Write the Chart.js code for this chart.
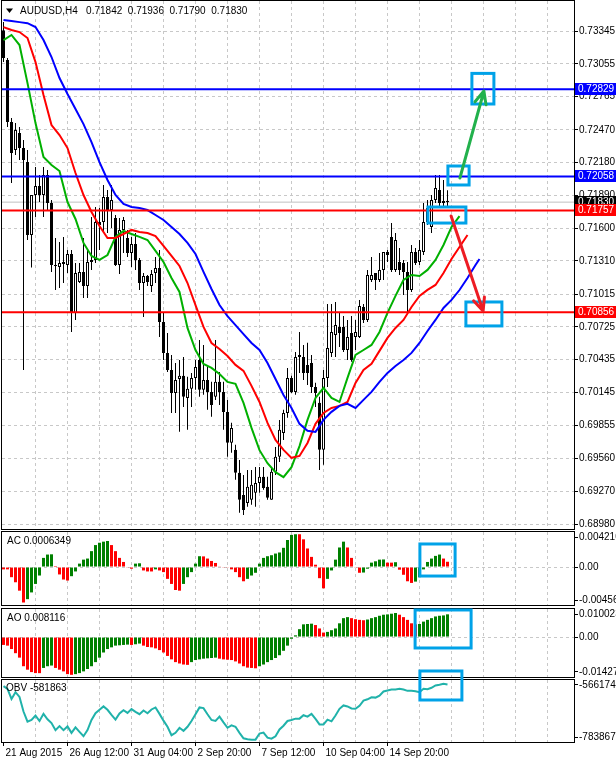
<!DOCTYPE html>
<html>
<head>
<meta charset="utf-8">
<title>AUDUSD,H4</title>
<script src="https://cdn.jsdelivr.net/npm/chart.js"></script>
<style>
  html, body { margin: 0; padding: 0; background: #fff; }
  #terminal { position: relative; width: 616px; height: 762px; overflow: hidden; background: #fff; }
  #terminal canvas { position: absolute; left: 0; }
</style>
</head>
<body>
<div id="terminal">
  <canvas id="priceChart" width="616" height="531" style="top:0px"></canvas>
  <canvas id="acChart" width="616" height="77" style="top:531px"></canvas>
  <canvas id="aoChart" width="616" height="71" style="top:608px"></canvas>
  <canvas id="obvChart" width="616" height="102" style="top:660px"></canvas>
</div>
<script>
// ============================
// DATA (AUDUSD H4, 112 bars)
// ============================
const dateLabels = ["21 Aug 2015", "26 Aug 12:00", "31 Aug 04:00", "2 Sep 20:00", "7 Sep 12:00", "10 Sep 04:00", "14 Sep 20:00"];
const dateBars = [0, 16, 32, 48, 64, 80, 96];

const open = [
  0.73353, 0.73088, 0.72539, 0.72291, 0.72442, 0.72309, 0.72185, 0.71539, 0.71893, 0.71973,
  0.71893, 0.72070, 0.71822, 0.71274, 0.71256, 0.71283, 0.71274, 0.71371, 0.70849, 0.71123,
  0.71212, 0.71088, 0.71300, 0.71318, 0.71654, 0.71654, 0.71876, 0.71760, 0.71689, 0.71274,
  0.71584, 0.71513, 0.71380, 0.71460, 0.71318, 0.71114, 0.71176, 0.71088, 0.71203, 0.71247,
  0.70769, 0.70495, 0.70344, 0.70141, 0.70265, 0.70292, 0.70097, 0.70177, 0.70274, 0.70433,
  0.70168, 0.70256, 0.70150, 0.70106, 0.70239, 0.70150, 0.69973, 0.69699, 0.69637, 0.69433,
  0.69238, 0.69167, 0.69194, 0.69256, 0.69344, 0.69398, 0.69309, 0.69194, 0.69442, 0.69575,
  0.69787, 0.69964, 0.70274, 0.70150, 0.70459, 0.70459, 0.70389, 0.70406, 0.70194, 0.70053,
  0.69637, 0.70274, 0.70495, 0.70654, 0.70725, 0.70725, 0.70522, 0.70672, 0.70637, 0.70637,
  0.70902, 0.70787, 0.71141, 0.71203, 0.71141, 0.71229, 0.71389, 0.71522, 0.71229, 0.71300,
  0.71291, 0.71212, 0.71052, 0.71389, 0.71300, 0.71389, 0.71654, 0.71610, 0.71849, 0.71938,
  0.71840, 0.71842
];
const high = [
  0.73424, 0.73106, 0.72575, 0.72530, 0.72495, 0.72380, 0.72291, 0.71893, 0.72141, 0.72070,
  0.72141, 0.72114, 0.71849, 0.71513, 0.71478, 0.71522, 0.71406, 0.71406, 0.71291, 0.71291,
  0.71513, 0.71406, 0.71699, 0.71787, 0.71778, 0.71982, 0.71938, 0.71982, 0.71716, 0.71689,
  0.71699, 0.71584, 0.71522, 0.71557, 0.71336, 0.71203, 0.71185, 0.71229, 0.71345, 0.71406,
  0.70858, 0.70672, 0.70477, 0.70406, 0.70433, 0.70459, 0.70283, 0.70318, 0.70433, 0.70610,
  0.70566, 0.70371, 0.70239, 0.70610, 0.70327, 0.70239, 0.70079, 0.69876, 0.69681, 0.69548,
  0.69415, 0.69459, 0.69459, 0.69486, 0.69486, 0.69486, 0.69398, 0.69486, 0.69663, 0.69902,
  0.69991, 0.70362, 0.70292, 0.70504, 0.70681, 0.70566, 0.70584, 0.70477, 0.70230, 0.70106,
  0.70344, 0.70929, 0.70929, 0.70947, 0.70858, 0.70823, 0.70787, 0.70823, 0.70787, 0.70964,
  0.70929, 0.71229, 0.71345, 0.71203, 0.71380, 0.71389, 0.71406, 0.71645, 0.71557, 0.71424,
  0.71318, 0.71300, 0.71451, 0.71424, 0.71495, 0.71822, 0.71849, 0.71893, 0.72070, 0.72070,
  0.72026, 0.71936
];
const low = [
  0.73070, 0.72495, 0.71999, 0.72247, 0.72203, 0.70344, 0.71495, 0.71251, 0.71699, 0.71831,
  0.71699, 0.71760, 0.71212, 0.71052, 0.71070, 0.71114, 0.71203, 0.70681, 0.70787, 0.71114,
  0.70982, 0.70982, 0.71229, 0.71291, 0.71406, 0.71557, 0.71557, 0.71601, 0.71265, 0.71194,
  0.71380, 0.71345, 0.71256, 0.71229, 0.71052, 0.70814, 0.71088, 0.71035, 0.71114, 0.70637,
  0.70433, 0.70327, 0.69964, 0.69964, 0.69796, 0.70017, 0.69814, 0.70017, 0.70168, 0.70106,
  0.70124, 0.69991, 0.69929, 0.70079, 0.70035, 0.69814, 0.69575, 0.69611, 0.69371, 0.69079,
  0.69061, 0.69132, 0.69150, 0.69132, 0.69256, 0.69283, 0.69194, 0.69194, 0.69415, 0.69530,
  0.69725, 0.69920, 0.70141, 0.70124, 0.70318, 0.70256, 0.70212, 0.70141, 0.70017, 0.69459,
  0.69504, 0.70194, 0.70459, 0.70459, 0.70548, 0.70504, 0.70433, 0.70416, 0.70522, 0.70628,
  0.70761, 0.70769, 0.71123, 0.71052, 0.71123, 0.71141, 0.71300, 0.71212, 0.71212, 0.71185,
  0.71008, 0.70858, 0.71035, 0.71274, 0.71274, 0.71362, 0.71628, 0.71557, 0.71822, 0.71787,
  0.71787, 0.71790
];
const close = [
  0.73106, 0.72539, 0.72265, 0.72468, 0.72309, 0.72203, 0.71539, 0.71893, 0.71973, 0.71893,
  0.72070, 0.71822, 0.71274, 0.71265, 0.71292, 0.71300, 0.71371, 0.70849, 0.71203, 0.71212,
  0.71088, 0.71300, 0.71318, 0.71654, 0.71628, 0.71876, 0.71760, 0.71849, 0.71274, 0.71584,
  0.71672, 0.71380, 0.71460, 0.71318, 0.71114, 0.71176, 0.71123, 0.71194, 0.71247, 0.70769,
  0.70495, 0.70344, 0.70141, 0.70256, 0.70292, 0.70106, 0.70177, 0.70274, 0.70371, 0.70168,
  0.70256, 0.70150, 0.70035, 0.70239, 0.70150, 0.69973, 0.69699, 0.69831, 0.69433, 0.69194,
  0.69105, 0.69309, 0.69327, 0.69344, 0.69398, 0.69300, 0.69212, 0.69442, 0.69575, 0.69814,
  0.69964, 0.70274, 0.70150, 0.70459, 0.70477, 0.70318, 0.70318, 0.70194, 0.70141, 0.69637,
  0.70274, 0.70539, 0.70681, 0.70743, 0.70672, 0.70522, 0.70637, 0.70433, 0.70681, 0.70911,
  0.70787, 0.71185, 0.71185, 0.71141, 0.71229, 0.71389, 0.71362, 0.71229, 0.71495, 0.71229,
  0.71212, 0.71052, 0.71389, 0.71291, 0.71406, 0.71654, 0.71778, 0.71849, 0.71955, 0.71822,
  0.71822, 0.71830
];

// Alligator lines, read every 2nd bar (last value sits on the shifted end bar)
const jaw = [
  0.73442, 0.73433, 0.73424, 0.73415, 0.73380, 0.73265, 0.73115, 0.72929, 0.72787, 0.72654,
  0.72521, 0.72362, 0.72185, 0.72026, 0.71893, 0.71814, 0.71787, 0.71778, 0.71760, 0.71716,
  0.71672, 0.71610, 0.71548, 0.71469, 0.71371, 0.71212, 0.71061, 0.70919, 0.70820, 0.70741,
  0.70662, 0.70583, 0.70521, 0.70406, 0.70264, 0.70123, 0.70008, 0.69867, 0.69805, 0.69796,
  0.69902, 0.69973, 0.70026, 0.70044, 0.70008, 0.70079, 0.70150, 0.70238, 0.70318, 0.70380,
  0.70433, 0.70495, 0.70583, 0.70689, 0.70787, 0.70893, 0.70964, 0.71052, 0.71159, 0.71274,
  0.71327
];
const teeth = [
  0.73380, 0.73354, 0.73336, 0.73283, 0.73070, 0.72778, 0.72513, 0.72424, 0.72309, 0.72088,
  0.71893, 0.71743, 0.71619, 0.71513, 0.71513, 0.71548, 0.71584, 0.71566, 0.71557, 0.71530,
  0.71442, 0.71354, 0.71265, 0.71114, 0.70919, 0.70725, 0.70583, 0.70530, 0.70468, 0.70389,
  0.70336, 0.70203, 0.70061, 0.69875, 0.69725, 0.69636, 0.69566, 0.69583, 0.69698, 0.69867,
  0.69964, 0.70008, 0.70026, 0.70061, 0.70229, 0.70344, 0.70398, 0.70513, 0.70628, 0.70716,
  0.70787, 0.70902, 0.71000, 0.71053, 0.71097, 0.71203, 0.71327, 0.71433, 0.71539
];
const lips = [
  0.73265, 0.73310, 0.73221, 0.72884, 0.72530, 0.72230, 0.72159, 0.72106, 0.71831, 0.71681,
  0.71469, 0.71354, 0.71318, 0.71362, 0.71522, 0.71575, 0.71548, 0.71522, 0.71495, 0.71398,
  0.71300, 0.71159, 0.71035, 0.70716, 0.70521, 0.70398, 0.70362, 0.70309, 0.70238, 0.70221,
  0.70053, 0.69831, 0.69634, 0.69519, 0.69439, 0.69395, 0.69483, 0.69670, 0.69902, 0.70097,
  0.70185, 0.70097, 0.70061, 0.70274, 0.70477, 0.70521, 0.70566, 0.70681, 0.70849, 0.71000,
  0.71141, 0.71185, 0.71176, 0.71230, 0.71318, 0.71451, 0.71610, 0.71707
];
const jawEndBar = 119, teethEndBar = 116, lipsEndBar = 114;

const priceTicks = [0.73345, 0.73055, 0.72765, 0.72470, 0.72180, 0.71890, 0.71600, 0.71310,
                    0.71015, 0.70725, 0.70435, 0.70145, 0.69855, 0.69560, 0.69270, 0.68980];
const blueLevels = [0.72829, 0.72058];
const redLevels = [0.71757, 0.70856];

const acValues = [
  -0.00028, -0.00028, -0.00122, -0.00183, -0.00284, -0.00426, -0.00386, -0.00305, -0.00203, -0.00102,
  0.00110, 0.00150, 0.00153, 0.00012, -0.00089, -0.00150, -0.00162, -0.00110, -0.00053, 0.00041,
  0.00089, 0.00102, 0.00191, 0.00264, 0.00292, 0.00305, 0.00313, 0.00264, 0.00191, 0.00110,
  0.00061, -0.00008, -0.00020, 0.00041, 0.00045, -0.00041, -0.00053, -0.00053, -0.00028, -0.00041,
  -0.00061, -0.00142, -0.00203, -0.00276, -0.00284, -0.00203, -0.00122, -0.00061, 0.00041, 0.00130,
  0.00128, 0.00102, 0.00073, 0.00049, 0.00008, -0.00008, -0.00008, -0.00028, -0.00061, -0.00122,
  -0.00171, -0.00142, -0.00102, -0.00069, 0.00041, 0.00110, 0.00130, 0.00142, 0.00162, 0.00175,
  0.00231, 0.00325, 0.00386, 0.00394, 0.00394, 0.00333, 0.00223, 0.00122, 0.00028, -0.00134,
  -0.00256, -0.00142, -0.00041, 0.00089, 0.00235, 0.00305, 0.00235, 0.00110, -0.00008, -0.00069,
  -0.00066, -0.00020, 0.00053, 0.00069, 0.00089, 0.00091, 0.00053, 0.00053, 0.00058, -0.00032,
  -0.00093, -0.00171, -0.00191, -0.00175, -0.00122, -0.00028, 0.00061, 0.00102, 0.00134, 0.00150,
  0.00102, 0.0006349
];
const aoValues = [
  -0.00282, -0.00307, -0.00429, -0.00577, -0.00736, -0.01043, -0.01166, -0.01252, -0.01288, -0.01290,
  -0.01104, -0.01043, -0.01018, -0.01104, -0.01166, -0.01227, -0.01325, -0.01350, -0.01325, -0.01288,
  -0.01227, -0.01141, -0.01043, -0.00896, -0.00736, -0.00552, -0.00429, -0.00368, -0.00307, -0.00295,
  -0.00282, -0.00270, -0.00282, -0.00258, -0.00233, -0.00307, -0.00356, -0.00368, -0.00405, -0.00466,
  -0.00552, -0.00675, -0.00798, -0.00896, -0.00945, -0.00982, -0.00994, -0.00896, -0.00822, -0.00798,
  -0.00773, -0.00761, -0.00748, -0.00736, -0.00773, -0.00798, -0.00810, -0.00822, -0.00871, -0.00945,
  -0.01043, -0.01092, -0.01104, -0.01117, -0.01043, -0.00982, -0.00896, -0.00822, -0.00748, -0.00650,
  -0.00491, -0.00307, -0.00061, 0.00061, 0.00282, 0.00454, 0.00466, 0.00478, 0.00429, 0.00307,
  0.00160, 0.00184, 0.00245, 0.00307, 0.00491, 0.00675, 0.00712, 0.00675, 0.00638, 0.00614,
  0.00601, 0.00626, 0.00675, 0.00712, 0.00761, 0.00798, 0.00810, 0.00834, 0.00859, 0.00798,
  0.00712, 0.00614, 0.00491, 0.00454, 0.00466, 0.00552, 0.00614, 0.00675, 0.00736, 0.00761,
  0.00773, 0.008116
];
const obvValues = [
  -587588, -597105, -632795, -609002, -625658, -676813, -712503, -706555, -691089, -710124,
  -685140, -704175, -717262, -742245, -727969, -742245, -729159, -751763, -732728, -748194,
  -763659, -742245, -706555, -682761, -670865, -658968, -670865, -688709, -705364, -683950,
  -672054, -681571, -668485, -678002, -686330, -673244, -682761, -669675, -662537, -685140,
  -708933, -730349, -760090, -751763, -733918, -744625, -730349, -710124, -686330, -662537,
  -664916, -686330, -706555, -710124, -694658, -714881, -733918, -725590, -730349, -751763,
  -770798, -774367, -775556, -775556, -754142, -750573, -768418, -771987, -763659, -739866,
  -726780, -710124, -706555, -701797, -701797, -689900, -694658, -685140, -702986, -722021,
  -722021, -705364, -711312, -691089, -667296, -655400, -658968, -666106, -667296, -656589,
  -638744, -633986, -626848, -628037, -620899, -606623, -603054, -599485, -599485, -597105,
  -599485, -604244, -604244, -605433, -609002, -597105, -598295, -593536, -585208, -582829,
  -579260, -581863
];

// axis ranges / labels of the three sub windows
const acRange = [-0.004561, 0.004210];
const aoRange = [-0.014277, 0.010023];
const obvRange = [-783867, -566174];
const acLabels = ["-0.004561", "0.00", "0.004210"];
const aoLabels = ["-0.014277", "0.00", "0.010023"];
const obvLabels = ["-783867", "-566174"];

// hand-drawn markup (bar index, value)
const priceBoxes = [[117.1, 122.6, 0.72970, 0.72699], [111.1, 116.4, 0.72150, 0.71982],
                    [106.1, 115.6, 0.71787, 0.71645], [115.6, 124.6, 0.70946, 0.70734]];
const priceArrows = [
  { from: [114.1, 0.72044], to: [120.1, 0.72814], color: "#22b14c" },
  { from: [111.9, 0.71707], to: [119.9, 0.70866], color: "#ed1c24" }
];
const acBoxes = [[104.1, 112.9, 0.00277, -0.00108]];
const aoBoxes = [[102.9, 116.9, 0.00967, -0.00391]];
const obvBoxes = [[104.1, 114.6, -534574, -636398]];

// ============================
// COMMON SETTINGS
// ============================
const FONT_FAMILY = "'Liberation Sans', Arial, sans-serif";
const FONT = "10px " + FONT_FAMILY;
Chart.defaults.font.family = FONT_FAMILY;
Chart.defaults.font.size = 10;
Chart.defaults.color = "#000";
Chart.defaults.animation = false;
Chart.defaults.events = [];
Chart.defaults.plugins.legend.display = false;
Chart.defaults.plugins.tooltip.enabled = false;

const GRID = "#c8c8c8";
const NONE = "rgba(0,0,0,0)";
const X_MIN = -0.375, X_MAX = 142.625;   // 4 px per bar
const gridBars = [];
for (let b = 0; b <= 136; b += 8) gridBars.push(b);

function xAxis(showDates) {
  return {
    type: "linear", min: X_MIN, max: X_MAX, bounds: "data", offset: false,
    afterBuildTicks: s => { s.ticks = gridBars.map(v => ({ value: v })); },
    afterFit: s => { s.height = showDates ? 20 : 0; s.paddingLeft = 0; s.paddingRight = 0; },
    grid: {
      offset: false,
      color: c => (c.tick && c.tick.value === 0) ? NONE : GRID,
      drawTicks: showDates, tickLength: 4, tickBorderDash: [],
      tickColor: c => (c.tick && dateBars.includes(c.tick.value)) ? "#000" : NONE
    },
    border: { display: false, dash: [3, 3] },
    ticks: {
      display: showDates, autoSkip: false, maxRotation: 0, align: "start",
      padding: 1, labelOffset: 2,
      callback: v => { const k = dateBars.indexOf(v); return k >= 0 ? dateLabels[k] : ""; }
    }
  };
}

// sub window y axis: MT4 prints the extreme labels just inside the frame
function panelAxis(range, labels, areaHeight, withZero) {
  const inset = (range[1] - range[0]) * 5 / areaHeight;
  const tickVals = withZero ? [range[0] + inset, 0, range[1] - inset] : [range[0] + inset, range[1] - inset];
  return {
    position: "right", min: range[0], max: range[1], bounds: "data",
    afterBuildTicks: s => { s.ticks = tickVals.map(v => ({ value: v })); },
    afterFit: s => { s.width = 42; s.paddingTop = 0; s.paddingBottom = 0; },
    grid: {
      color: c => (c.tick && c.tick.value === 0) ? GRID : NONE,
      tickLength: 4, tickColor: "#000", tickBorderDash: []
    },
    border: { display: false, dash: [3, 3] },
    ticks: { autoSkip: false, padding: 1, callback: (v, i) => labels[i] }
  };
}

function trendColors(values) {
  return values.map((v, i) => (i > 0 && v > values[i - 1]) ? "#008000" : "#ff0000");
}

function drawArrow(ctx, x0, y0, x1, y1, color) {
  const ang = Math.atan2(y1 - y0, x1 - x0), head = 14, spread = 0.42;
  ctx.strokeStyle = color;
  ctx.lineWidth = 3;
  ctx.lineCap = "round";
  ctx.lineJoin = "round";
  ctx.beginPath();
  ctx.moveTo(x0, y0);
  ctx.lineTo(x1, y1);
  ctx.moveTo(x1 - head * Math.cos(ang - spread), y1 - head * Math.sin(ang - spread));
  ctx.lineTo(x1, y1);
  ctx.lineTo(x1 - head * Math.cos(ang + spread), y1 - head * Math.sin(ang + spread));
  ctx.stroke();
}

// frame, price tags, captions and the blue/green/red markup
const mt4Overlay = {
  id: "mt4Overlay",
  afterDraw(chart, _args, opts) {
    const { ctx, chartArea: area } = chart;
    const xs = chart.scales.x, ys = chart.scales.y;
    const px = v => xs.getPixelForValue(v), py = v => ys.getPixelForValue(v);
    ctx.save();
    ctx.strokeStyle = "#000";
    ctx.lineWidth = 1;
    ctx.strokeRect(area.left - 0.5, area.top - 0.5, area.width + 1, area.height + 1);

    ctx.font = FONT;
    ctx.textBaseline = "middle";
    ctx.textAlign = "left";
    (opts.tags || []).forEach(t => {
      const ty = Math.round(py(t.value));
      ctx.fillStyle = t.color;
      ctx.fillRect(area.right + 1, ty - 6, chart.width - area.right - 1, 12);
      ctx.fillStyle = "#fff";
      ctx.fillText(t.value.toFixed(5), area.right + 4, ty + 0.5);
    });

    ctx.lineWidth = 3;
    ctx.strokeStyle = "#00a2e8";
    (opts.boxes || []).forEach(([b0, b1, v0, v1]) => {
      ctx.strokeRect(px(b0), py(v0), px(b1) - px(b0), py(v1) - py(v0));
    });
    (opts.arrows || []).forEach(a => {
      drawArrow(ctx, px(a.from[0]), py(a.from[1]), px(a.to[0]), py(a.to[1]), a.color);
    });

    if (opts.caption) {
      const c = opts.caption;
      let tx = area.left + c.dx;
      const ty = area.top + c.dy;
      ctx.fillStyle = "#000";
      if (c.marker) {
        ctx.beginPath();
        ctx.moveTo(tx, ty - 2.5);
        ctx.lineTo(tx + 7, ty - 2.5);
        ctx.lineTo(tx + 3.5, ty + 2);
        ctx.closePath();
        ctx.fill();
        tx += 14;
      }
      ctx.fillText(c.text, tx, ty);
    }
    ctx.restore();
  }
};

// ============================
// PRICE WINDOW
// ============================
const barIdx = close.map((_, i) => i);
const maPoints = (vals, endBar) => vals.map((v, k) => ({ x: k === vals.length - 1 ? endBar : 2 * k, y: v }));
const levelLine = v => [{ x: X_MIN, y: v }, { x: X_MAX, y: v }];
const lastClose = close[close.length - 1];
const lastBar = [open, high, low, close].map(a => a[a.length - 1].toFixed(5));

const priceDatasets = [
  { type: "line", data: levelLine(lastClose), borderColor: "#c0c0c0", borderWidth: 1, pointRadius: 0, order: 6 },
  { type: "bar", data: barIdx.map(i => ({ x: i, y: [low[i], high[i]] })), backgroundColor: "#000",
    barThickness: 1, grouped: false, inflateAmount: 0, order: 5 },
  { type: "bar", data: barIdx.map(i => ({ x: i, y: [open[i], close[i]] })),
    backgroundColor: barIdx.map(i => close[i] >= open[i] ? "#ffffff" : "#000000"),
    borderColor: "#000", borderWidth: 1, borderSkipped: false, barThickness: 3, minBarLength: 1,
    grouped: false, inflateAmount: 0, order: 4 },
  { type: "line", data: maPoints(jaw, jawEndBar), borderColor: "#0000ff", borderWidth: 2, pointRadius: 0, order: 3 },
  { type: "line", data: maPoints(teeth, teethEndBar), borderColor: "#ff0000", borderWidth: 2, pointRadius: 0, order: 3 },
  { type: "line", data: maPoints(lips, lipsEndBar), borderColor: "#00b000", borderWidth: 2, pointRadius: 0, order: 3 }
];
blueLevels.forEach(v => priceDatasets.push({ type: "line", data: levelLine(v), borderColor: "#0000ff", borderWidth: 2, pointRadius: 0, order: 1 }));
redLevels.forEach(v => priceDatasets.push({ type: "line", data: levelLine(v), borderColor: "#ff0000", borderWidth: 2, pointRadius: 0, order: 1 }));

new Chart(document.getElementById("priceChart"), {
  type: "bar",
  data: { datasets: priceDatasets },
  options: {
    responsive: false,
    layout: { padding: { left: 2, top: 1, bottom: 2, right: 0 } },
    scales: {
      x: xAxis(false),
      y: {
        position: "right", min: 0.68936, max: 0.73611, bounds: "data",
        afterBuildTicks: s => { s.ticks = priceTicks.map(v => ({ value: v })); },
        afterFit: s => { s.width = 42; s.paddingTop = 0; s.paddingBottom = 0; },
        grid: { color: GRID, tickLength: 4, tickColor: "#000", tickBorderDash: [] },
        border: { display: false, dash: [3, 3] },
        ticks: { autoSkip: false, padding: 1, callback: v => v.toFixed(5) }
      }
    },
    plugins: {
      mt4Overlay: {
        caption: { text: "AUDUSD,H4   " + lastBar.join("  "), dx: 4, dy: 10, marker: true },
        tags: [
          { value: blueLevels[0], color: "#0000ff" },
          { value: blueLevels[1], color: "#0000ff" },
          { value: lastClose, color: "#000000" },
          { value: redLevels[0], color: "#ff0000" },
          { value: redLevels[1], color: "#ff0000" }
        ],
        boxes: priceBoxes,
        arrows: priceArrows
      }
    }
  },
  plugins: [mt4Overlay]
});

// ============================
// AC / AO HISTOGRAMS
// ============================
function histogram(id, values, range, labels, areaHeight, pad, caption, boxes) {
  new Chart(document.getElementById(id), {
    type: "bar",
    data: {
      datasets: [{
        data: values.map((v, i) => ({ x: i, y: v })),
        backgroundColor: trendColors(values),
        barThickness: 3, inflateAmount: 0, grouped: false
      }]
    },
    options: {
      responsive: false,
      layout: { padding: pad },
      scales: { x: xAxis(false), y: panelAxis(range, labels, areaHeight, true) },
      plugins: { mt4Overlay: { caption: { text: caption, dx: 5, dy: 9 }, boxes: boxes } }
    },
    plugins: [mt4Overlay]
  });
}
histogram("acChart", acValues, acRange, acLabels, 73, { left: 2, top: 1, bottom: 3, right: 0 },
          "AC " + acValues[acValues.length - 1].toFixed(7), acBoxes);
histogram("aoChart", aoValues, aoRange, aoLabels, 68, { left: 2, top: 1, bottom: 2, right: 0 },
          "AO " + aoValues[aoValues.length - 1].toFixed(6), aoBoxes);

// ============================
// OBV LINE
// ============================
new Chart(document.getElementById("obvChart"), {
  type: "line",
  data: {
    datasets: [{
      data: obvValues.map((v, i) => ({ x: i, y: v })),
      borderColor: "#20b2aa", borderWidth: 2, pointRadius: 0, tension: 0
    }]
  },
  options: {
    responsive: false,
    layout: { padding: { left: 2, top: 20, bottom: 0, right: 0 } },
    scales: { x: xAxis(true), y: panelAxis(obvRange, obvLabels, 62, false) },
    plugins: {
      mt4Overlay: {
        caption: { text: "OBV " + obvValues[obvValues.length - 1], dx: 4, dy: 8 },
        boxes: obvBoxes
      }
    }
  },
  plugins: [mt4Overlay]
});
</script>
</body>
</html>
